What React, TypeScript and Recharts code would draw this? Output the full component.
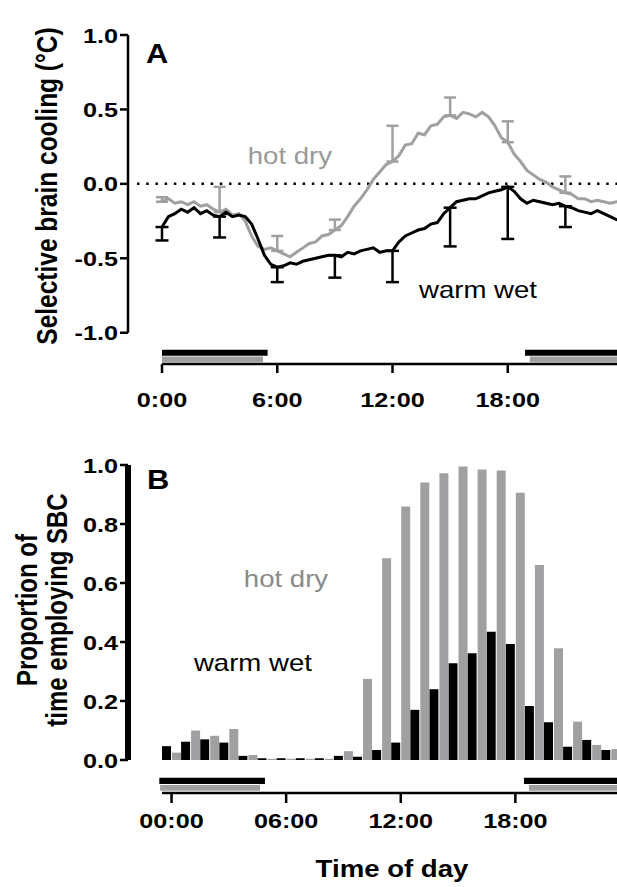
import React from 'react';
import {
  LineChart,
  Line,
  BarChart,
  Bar,
  XAxis,
  YAxis,
  ErrorBar,
  ReferenceLine,
  ReferenceArea,
  ReferenceDot,
} from 'recharts';

// ---- Panel A: selective brain cooling, 20-minute means ----
const sampleMinutes = 20;

const hotDry = [
  -0.12, -0.1, -0.13, -0.12, -0.14, -0.12, -0.15, -0.14, -0.17, -0.19, -0.17, -0.21,
  -0.2, -0.25, -0.35, -0.42, -0.44, -0.43, -0.45, -0.47, -0.49, -0.46, -0.43, -0.4,
  -0.39, -0.35, -0.34, -0.31, -0.28, -0.22, -0.15, -0.1, -0.04, 0.03, 0.08, 0.13,
  0.15, 0.19, 0.26, 0.27, 0.34, 0.33, 0.39, 0.4, 0.45, 0.46, 0.44, 0.48,
  0.47, 0.45, 0.48, 0.45, 0.39, 0.31, 0.28, 0.2, 0.15, 0.09, 0.06, 0.03,
  0.01, -0.02, -0.04, -0.06, -0.07, -0.1, -0.1, -0.12, -0.11, -0.12, -0.13, -0.12,
  -0.13,
];

const warmWet = [
  -0.29, -0.22, -0.2, -0.17, -0.19, -0.16, -0.2, -0.18, -0.21, -0.22, -0.19, -0.22,
  -0.21, -0.22, -0.27, -0.37, -0.48, -0.54, -0.56, -0.55, -0.53, -0.54, -0.52, -0.51,
  -0.5, -0.49, -0.48, -0.48, -0.49, -0.46, -0.47, -0.45, -0.44, -0.43, -0.46, -0.45,
  -0.45, -0.39, -0.35, -0.33, -0.31, -0.3, -0.27, -0.26, -0.2, -0.16, -0.12, -0.11,
  -0.1, -0.1, -0.08, -0.06, -0.05, -0.04, -0.02, -0.05, -0.1, -0.13, -0.11, -0.12,
  -0.13, -0.14, -0.13, -0.15, -0.16, -0.18, -0.19, -0.2, -0.18, -0.2, -0.22, -0.24,
  -0.25,
];

// SEM at 3-hourly marks (hot dry drawn upward, warm wet downward)
const errHours = [0, 3, 6, 9, 12, 15, 18, 21];
const hotDryErr = [0.03, 0.17, 0.1, 0.07, 0.24, 0.12, 0.14, 0.11];
const warmWetErr = [0.09, 0.14, 0.1, 0.15, 0.21, 0.26, 0.35, 0.14];

const tickHoursA = [0, 6, 12, 18];
const tickLabelsA = ['0:00', '6:00', '12:00', '18:00'];
const yTicksA = [-1, -0.5, 0, 0.5, 1];

// night periods (hours) for each season
const warmNightA = [[0, 5.5], [18.9, 24]];
const hotNightA = [[0, 5.26], [19.15, 24]];

// ---- Panel B: proportion of each hour spent employing SBC ----
const hoursB = [
  0, 1, 2, 3, 4, 5, 6, 7, 8, 9, 10, 11, 12, 13, 14, 15, 16, 17, 18, 19, 20, 21, 22, 23,
];
const warmWetProp = [
  0.047, 0.062, 0.07, 0.059, 0.014, 0.006, 0.006, 0.006, 0.006, 0.014, 0.011, 0.034,
  0.059, 0.17, 0.24, 0.328, 0.362, 0.435, 0.393, 0.183, 0.128, 0.045, 0.068, 0.034,
];
const hotDryProp = [
  0.025, 0.1, 0.082, 0.105, 0.017, 0.004, 0.004, 0.004, 0.004, 0.03, 0.275, 0.684,
  0.859, 0.941, 0.972, 0.995, 0.985, 0.981, 0.906, 0.661, 0.379, 0.13, 0.051, 0.037,
];
const tickLabelsB = ['00:00', '06:00', '12:00', '18:00'];
const yTicksB = [0, 0.2, 0.4, 0.6, 0.8, 1];

const warmNightB = [[-0.64, 4.89], [18.45, 24]];
const hotNightB = [[-0.6, 4.63], [18.71, 24]];

const lineData = hotDry.map((v, i) => {
  const t = (i * sampleMinutes) / 60;
  const k = errHours.findIndex((h) => Math.abs(h - t) < 0.01);
  return {
    t,
    hot: v,
    warm: warmWet[i],
    hotErr: k >= 0 ? [0, hotDryErr[k]] : undefined,
    warmErr: k >= 0 ? [warmWetErr[k], 0] : undefined,
  };
});

const barData = hoursB.map((hour, i) => ({
  hour,
  warm: warmWetProp[i],
  hot: hotDryProp[i],
}));

const FONT = '"Liberation Sans", Arial, Helvetica, sans-serif';
const GREY = '#a0a0a3';
const SX = 1.2; // the figure's lettering is set slightly wide

function StretchText({ x, y, text, size, bold = false, anchor = 'middle', fill = '#000', rotate = false, sx = SX }: any) {
  const transform = `translate(${x},${y}) scale(${sx},1)${rotate ? ' rotate(-90)' : ''}`;
  return (
    <text
      transform={transform}
      textAnchor={anchor}
      fontFamily={FONT}
      fontSize={size}
      fontWeight={bold ? 700 : 400}
      fill={fill}
    >
      {text}
    </text>
  );
}

const axisStroke = { stroke: '#000', strokeWidth: 2.5 };

// label placed at a ReferenceDot's centre
const noteAt = (text: string, size: number, fill: string, opts: any = {}) => (p: any) => {
  const vb = p.viewBox || {};
  const cx = vb.x + (vb.width || 0) / 2;
  const cy = vb.y + (vb.height || 0) / 2;
  return <StretchText x={cx} y={cy} text={text} size={size} fill={fill} {...opts} />;
};

function PanelA() {
  return (
    <LineChart width={640} height={440} data={lineData} margin={{ top: 35, right: 17, left: 0, bottom: 16 }}>
      <XAxis
        dataKey="t"
        type="number"
        domain={[-1.77, 24]}
        ticks={tickHoursA}
        interval={0}
        allowDataOverflow
        axisLine={false}
        tickLine={axisStroke}
        tickSize={9}
        height={60}
        tick={(p: any) => (
          <StretchText
            x={p.x}
            y={p.y + 32}
            text={tickLabelsA[tickHoursA.indexOf(p.payload.value)]}
            size={21}
            bold
          />
        )}
      />
      <YAxis
        type="number"
        domain={[-1.21, 1]}
        ticks={yTicksA}
        interval={0}
        allowDataOverflow
        width={128}
        axisLine={false}
        tickLine={axisStroke}
        tickSize={8}
        tick={(p: any) => (
          <StretchText x={p.x} y={p.y + 7.5} text={Number(p.payload.value).toFixed(1)} size={21} bold anchor="end" />
        )}
        label={() => (
          <StretchText x={57} y={186} text="Selective brain cooling (°C)" size={24.5} bold rotate />
        )}
      />

      {/* offset axis lines */}
      <ReferenceLine segment={[{ x: -1.77, y: -1 }, { x: -1.77, y: 1 }]} stroke="#000" strokeWidth={2.5} ifOverflow="visible" />
      <ReferenceLine segment={[{ x: 0, y: -1.21 }, { x: 24, y: -1.21 }]} stroke="#000" strokeWidth={2.5} ifOverflow="visible" />
      <ReferenceLine
        segment={[{ x: -1.3, y: 0 }, { x: 24, y: 0 }]}
        stroke="#000"
        strokeWidth={2.5}
        strokeDasharray="2.5 6.7"
        ifOverflow="visible"
      />

      {warmNightA.map(([a, b], i) => (
        <ReferenceArea key={`wn${i}`} x1={a} x2={b} y1={-1.115} y2={-1.154} fill="#000" fillOpacity={1} stroke="none" ifOverflow="visible" />
      ))}
      {hotNightA.map(([a, b], i) => (
        <ReferenceArea key={`hn${i}`} x1={a} x2={b} y1={-1.16} y2={-1.198} fill={GREY} fillOpacity={1} stroke="none" ifOverflow="visible" />
      ))}

      <Line dataKey="hot" stroke={GREY} strokeWidth={3} dot={false} isAnimationActive={false} type="linear">
        <ErrorBar dataKey="hotErr" direction="y" width={6} stroke={GREY} strokeWidth={2.5} isAnimationActive={false} />
      </Line>
      <Line dataKey="warm" stroke="#000" strokeWidth={3} dot={false} isAnimationActive={false} type="linear">
        <ErrorBar dataKey="warmErr" direction="y" width={6.5} stroke="#000" strokeWidth={2.5} isAnimationActive={false} />
      </Line>

      <ReferenceDot x={-0.83} y={0.812} r={1} fill="none" stroke="none" ifOverflow="visible" label={noteAt('A', 28, '#000', { bold: true, anchor: 'start', sx: 1.1 })} />
      <ReferenceDot x={6.66} y={0.134} r={1} fill="none" stroke="none" label={noteAt('hot dry', 23, '#999999')} />
      <ReferenceDot x={16.45} y={-0.765} r={1} fill="none" stroke="none" label={noteAt('warm wet', 23, '#000')} />
    </LineChart>
  );
}

// hour scale matching the bar bands: -0.5 sits 34px right of the y axis
const tDomainB = [-2.28, 23.5];
// the x axis sits below the 0 line, at this value of the y scale
const xAxisLevelB = -0.112;

function PanelB() {
  return (
    <BarChart
      width={640}
      height={447}
      data={barData}
      margin={{ top: 25, right: 19.6, left: 0, bottom: 14 }}
      barCategoryGap={0}
      barGap={1}
    >
      <XAxis
        dataKey="hour"
        type="category"
        padding={{ left: 34, right: 0 }}
        interval={5}
        axisLine={false}
        tickLine={false}
        tickSize={0}
        tickMargin={0}
        height={113}
        tick={(p: any) => (
          <g>
            <line x1={p.x} x2={p.x} y1={p.y + 33} y2={p.y + 43} stroke="#000" strokeWidth={2.5} />
            <StretchText x={p.x} y={p.y + 68} text={tickLabelsB[Math.round(p.payload.value / 6)]} size={21} bold />
          </g>
        )}
        label={() => <StretchText x={392} y={437} text="Time of day" size={23} bold />}
      />
      <XAxis xAxisId="t" dataKey="hour" type="number" domain={tDomainB} allowDataOverflow hide />
      <YAxis
        type="number"
        domain={[0, 1]}
        ticks={yTicksB}
        interval={0}
        allowDataOverflow
        width={128}
        axisLine={{ stroke: '#000', strokeWidth: 6 }}
        tickLine={axisStroke}
        tickSize={8}
        tick={(p: any) => (
          <StretchText x={p.x} y={p.y + 7.5} text={Number(p.payload.value).toFixed(1)} size={21} bold anchor="end" />
        )}
        label={() => (
          <g>
            <StretchText x={36.7} y={170} text="Proportion of" size={24} bold rotate />
            <StretchText x={66.7} y={170} text="time employing SBC" size={24} bold rotate />
          </g>
        )}
      />

      <ReferenceLine
        xAxisId="t"
        segment={[{ x: -0.5, y: xAxisLevelB }, { x: 24, y: xAxisLevelB }]}
        stroke="#000"
        strokeWidth={2.5}
        ifOverflow="visible"
      />

      {warmNightB.map(([a, b], i) => (
        <ReferenceArea key={`wb${i}`} xAxisId="t" x1={a} x2={b} y1={-0.06} y2={-0.081} fill="#000" fillOpacity={1} stroke="none" ifOverflow="visible" />
      ))}
      {hotNightB.map(([a, b], i) => (
        <ReferenceArea key={`hb${i}`} xAxisId="t" x1={a} x2={b} y1={-0.085} y2={-0.104} fill={GREY} fillOpacity={1} stroke="none" ifOverflow="visible" />
      ))}

      <Bar dataKey="warm" fill="#000" isAnimationActive={false} />
      <Bar dataKey="hot" fill={GREY} isAnimationActive={false} />

      <ReferenceDot xAxisId="t" x={-1.285} y={0.919} r={1} fill="none" stroke="none" ifOverflow="visible" label={noteAt('B', 28, '#000', { bold: true, anchor: 'start', sx: 1.1 })} />
      <ReferenceDot xAxisId="t" x={5.99} y={0.586} r={1} fill="none" stroke="none" label={noteAt('hot dry', 23, '#8a8a8a')} />
      <ReferenceDot xAxisId="t" x={4.26} y={0.302} r={1} fill="none" stroke="none" label={noteAt('warm wet', 23, '#000')} />
    </BarChart>
  );
}

export default function App() {
  return (
    <div style={{ position: 'absolute', left: 0, top: 0, width: 617, height: 887, overflow: 'hidden', background: '#fff' }}>
      <div style={{ position: 'absolute', left: 0, top: 0 }}>
        <PanelA />
      </div>
      <div style={{ position: 'absolute', left: 0, top: 440 }}>
        <PanelB />
      </div>
    </div>
  );
}
